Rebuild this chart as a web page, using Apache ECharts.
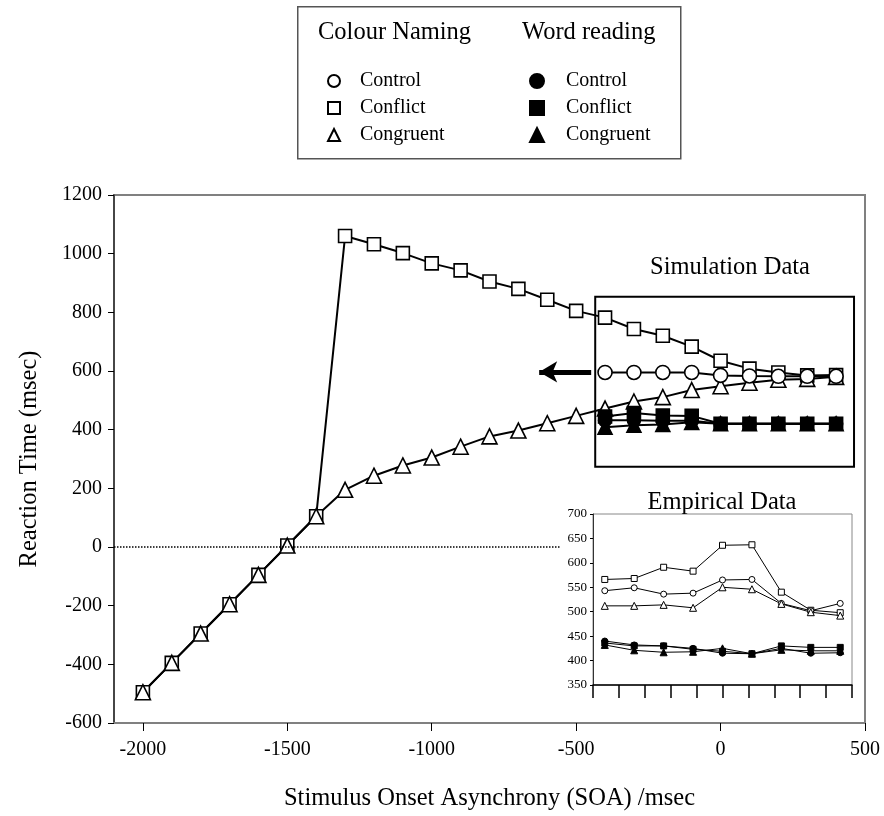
<!DOCTYPE html>
<html>
<head>
<meta charset="utf-8">
<script src="https://cdn.jsdelivr.net/npm/echarts@6/dist/echarts.min.js"></script>
<style>html,body{margin:0;padding:0;background:#fff}#c{width:884px;height:816px}</style>
</head>
<body>
<div id="c"></div>
<script>
// ---- data ----
const soaMain = [-2000,-1900,-1800,-1700,-1600,-1500,-1400,-1300,-1200,-1100,-1000,-900,-800,-700,-600,-500,-400,-300,-200,-100,0,100,200,300,400];
const cnConflict  = [-495,-395,-295,-195,-95,5,105,1060,1032,1002,967,943,905,880,843,805,782,743,720,683,635,608,595,585,586];
const cnCongruent = [-495,-395,-295,-195,-95,5,105,195,243,278,305,342,377,397,422,447,472,496,511,535,548,560,570,573,580];
const soaSim = [-400,-300,-200,-100,0,100,200,300,400];
const cnControl   = [595,595,595,595,585,583,582,582,582];
const wrControl   = [432,432,430,430,420,420,420,420,420];
const wrConflict  = [445,457,448,447,420,420,420,420,420];
const wrCongruent = [408,415,418,425,420,420,420,420,420];
// empirical (inset)
const soaEmp = [-400,-300,-200,-100,0,100,200,300,400];
const empCnConflict  = [566,568,591,583,636,637,540,503,498];
const empCnControl   = [543,549,536,538,565,566,517,502,517];
const empCnCongruent = [512,512,514,508,550,546,516,499,492];
const empWrControl   = [440,432,430,425,415,414,425,415,416];
const empWrConflict  = [436,430,430,423,419,414,430,427,427];
const empWrCongruent = [432,421,417,418,425,414,422,420,420];
// axis ticks
const xTicks = [-2000,-1500,-1000,-500,0,500];

const FONT = 'Liberation Serif, Times New Roman, serif';
const TITLE = 24.5;
const pair = (xs, ys) => xs.map((x, i) => [x, ys[i]]);

function mainSeries(name, xs, ys, symbol, filled, size, extra) {
  return Object.assign({
    name, type: 'line', xAxisIndex: 0, yAxisIndex: 0,
    data: pair(xs, ys), symbol, symbolSize: size, showAllSymbol: true,
    lineStyle: { color: '#000', width: 2 },
    itemStyle: { color: filled ? '#000' : '#fff', borderColor: '#000', borderWidth: 1.6, opacity: 1 },
    emphasis: { disabled: true }, animation: false, z: 3
  }, extra || {});
}
function empSeries(name, ys, symbol, filled, size) {
  return {
    name, type: 'line', xAxisIndex: 1, yAxisIndex: 1,
    data: pair(soaEmp, ys), symbol, symbolSize: size, showAllSymbol: true,
    lineStyle: { color: '#000', width: 1 },
    itemStyle: { color: filled ? '#000' : '#fff', borderColor: '#000', borderWidth: 1 },
    emphasis: { disabled: true }, animation: false, z: 5
  };
}

const chart = echarts.init(document.getElementById('c'));
const option = {
  backgroundColor: '#fff',
  animation: false,
  grid: [
    { left: 114, top: 195, width: 751, height: 529, show: true, borderColor: '#808080', borderWidth: 2, backgroundColor: 'transparent' },
    { left: 593, top: 514, width: 259, height: 171, show: true, borderColor: '#888', borderWidth: 1, backgroundColor: '#fff', z: 4 }
  ],
  xAxis: [
    { type: 'value', gridIndex: 0, min: -2100, max: 500,
      name: 'Stimulus Onset Asynchrony (SOA) /msec', nameLocation: 'middle', nameGap: 63,
      nameTextStyle: { fontFamily: FONT, fontSize: TITLE, color: '#000' },
      axisLine: { show: true, onZero: false, lineStyle: { color: '#808080', width: 2 } },
      axisTick: { show: true, inside: false, length: 8, customValues: xTicks, lineStyle: { color: '#000', width: 1 } },
      axisLabel: { customValues: xTicks, formatter: v => String(v), fontFamily: FONT, fontSize: 20, color: '#000', margin: 17 },
      splitLine: { show: false } },
    { type: 'value', gridIndex: 1, min: -440, max: 440, interval: 88,
      axisLine: { show: true, onZero: false, lineStyle: { color: '#000', width: 1.5 } },
      axisTick: { show: true, inside: false, length: 13, lineStyle: { color: '#000', width: 1.5 } },
      axisLabel: { show: false }, splitLine: { show: false }, z: 5 }
  ],
  yAxis: [
    { type: 'value', gridIndex: 0, min: -600, max: 1200, interval: 200,
      name: 'Reaction Time (msec)', nameLocation: 'middle', nameGap: 72, nameRotate: 90,
      nameTextStyle: { fontFamily: FONT, fontSize: TITLE, color: '#000' },
      axisLine: { show: true, onZero: false, lineStyle: { color: '#333', width: 1.5 } },
      axisTick: { show: true, inside: false, length: 6, lineStyle: { color: '#000' } },
      axisLabel: { formatter: v => String(v), fontFamily: FONT, fontSize: 20, color: '#000', margin: 12 },
      splitLine: { show: false } },
    { type: 'value', gridIndex: 1, min: 350, max: 700, interval: 50,
      axisLine: { show: true, onZero: false, lineStyle: { color: '#333', width: 1 } },
      axisTick: { show: true, inside: false, length: 3, lineStyle: { color: '#000' } },
      axisLabel: { fontFamily: FONT, fontSize: 13, color: '#000', margin: 6 },
      splitLine: { show: false }, z: 5 }
  ],
  legend: [
    { orient: 'vertical', left: 322, top: 66, itemWidth: 12, itemHeight: 12, itemGap: 7,
      selectedMode: false,
      data: [{ name: 'Control', icon: 'circle' }, { name: 'Conflict', icon: 'rect' }, { name: 'Congruent', icon: 'triangle' }],
      textStyle: { fontFamily: FONT, fontSize: 20, color: '#000', lineHeight: 20, padding: [0, 0, 0, 15] } },
    { orient: 'vertical', left: 524, top: 66, itemWidth: 14, itemHeight: 14, itemGap: 7,
      selectedMode: false,
      formatter: n => n.replace('WR ', ''),
      data: [{ name: 'WR Control', icon: 'circle' }, { name: 'WR Conflict', icon: 'rect' }, { name: 'WR Congruent', icon: 'triangle' }],
      textStyle: { fontFamily: FONT, fontSize: 20, color: '#000', lineHeight: 20, padding: [0, 0, 0, 17] } }
  ],
  graphic: [
    { type: 'rect', left: 297, top: 6, shape: { width: 383, height: 152 }, style: { fill: '#fff', stroke: '#555', lineWidth: 1.5 }, z: -1 },
    { type: 'text', x: 318, y: 33, style: { text: 'Colour Naming', font: TITLE + 'px ' + FONT, fill: '#000', align: 'left', verticalAlign: 'middle' } },
    { type: 'text', x: 522, y: 33, style: { text: 'Word reading', font: TITLE + 'px ' + FONT, fill: '#000', align: 'left', verticalAlign: 'middle' } },
    { type: 'text', x: 730, y: 268, style: { text: 'Simulation Data', font: TITLE + 'px ' + FONT, fill: '#000', align: 'center', verticalAlign: 'middle' } },
    { type: 'text', x: 722, y: 503, z: 10, style: { text: 'Empirical Data', font: TITLE + 'px ' + FONT, fill: '#000', align: 'center', verticalAlign: 'middle' } }
  ],
  series: [
    mainSeries('Conflict', soaMain, cnConflict, 'rect', false, 13, {
      markLine: { silent: true, symbol: ['none', 'none'], label: { show: false },
        lineStyle: { type: 'dotted', color: '#000', width: 1.5 },
        data: [[{ coord: [-2100, 0] }, { coord: [-555, 0] }]] }
    }),
    mainSeries('Congruent', soaMain, cnCongruent, 'triangle', false, 15, {
      markArea: { silent: true, itemStyle: { color: 'rgba(0,0,0,0)', borderColor: '#000', borderWidth: 2 },
        data: [[{ coord: [-434, 853] }, { coord: [462, 274] }]] }
    }),
    mainSeries('Control', soaSim, cnControl, 'circle', false, 14, {
      markLine: { silent: true, symbol: ['none', 'arrow'], symbolSize: [16, 18], label: { show: false },
        lineStyle: { type: 'solid', color: '#000', width: 5 },
        data: [[{ coord: [-448, 597] }, { coord: [-628, 597] }]] }
    }),
    mainSeries('WR Control', soaSim, wrControl, 'circle', true, 13),
    mainSeries('WR Conflict', soaSim, wrConflict, 'rect', true, 13),
    mainSeries('WR Congruent', soaSim, wrCongruent, 'triangle', true, 14),
    empSeries('Emp Conflict', empCnConflict, 'rect', false, 6),
    empSeries('Emp Control', empCnControl, 'circle', false, 6),
    empSeries('Emp Congruent', empCnCongruent, 'triangle', false, 7),
    empSeries('Emp WR Control', empWrControl, 'circle', true, 6),
    empSeries('Emp WR Conflict', empWrConflict, 'rect', true, 6),
    empSeries('Emp WR Congruent', empWrCongruent, 'triangle', true, 7)
  ]
};
chart.setOption(option);
</script>
</body>
</html>
